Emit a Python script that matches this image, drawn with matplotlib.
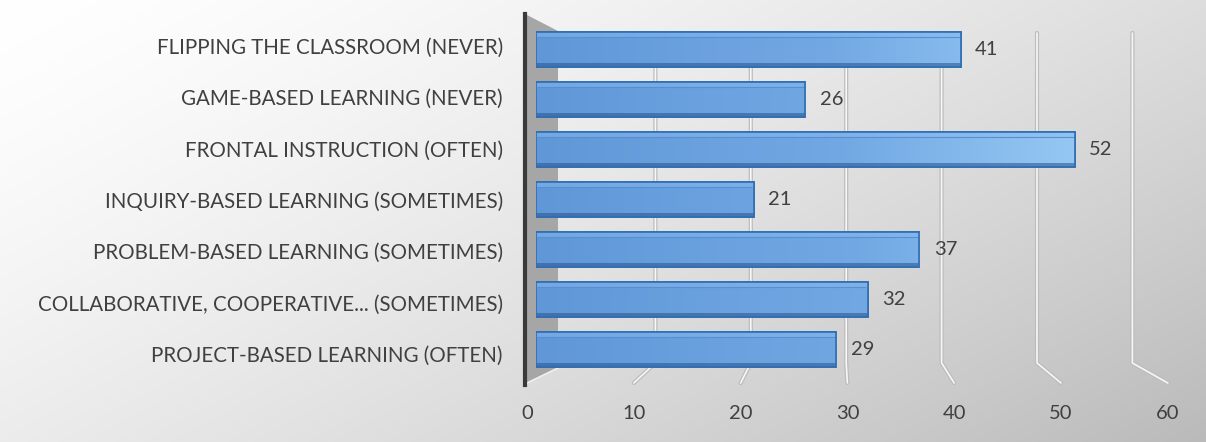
import numpy as np
import matplotlib
matplotlib.use('Agg')
import matplotlib.pyplot as plt
from matplotlib.patches import Polygon
from matplotlib.colors import LinearSegmentedColormap

# 데이터
categories = ['PROJECT-BASED LEARNING (OFTEN)',
              'COLLABORATIVE, COOPERATIVE... (SOMETIMES)',
              'PROBLEM-BASED LEARNING (SOMETIMES)',
              'INQUIRY-BASED LEARNING (SOMETIMES)',
              'FRONTAL INSTRUCTION (OFTEN)',
              'GAME-BASED LEARNING (NEVER)',
              'FLIPPING THE CLASSROOM (NEVER)']
values = [29, 32, 37, 21, 52, 26, 41]
xticks = [0, 10, 20, 30, 40, 50, 60]

W, H = 1206, 442
plt.rcParams['font.family'] = ['Lato', 'DejaVu Sans']
fig = plt.figure(figsize=(W / 100, H / 100), dpi=100)


def px_axes(left, top, right, bottom, **kw):
    # 픽셀 좌표로 axes 만들기
    return fig.add_axes([left / W, 1 - bottom / H, (right - left) / W, (bottom - top) / H], **kw)


def hide(a):
    a.patch.set_alpha(0)
    for s in a.spines.values():
        s.set_visible(False)


# 배경 그라데이션 (왼쪽 위 흰색 -> 오른쪽 아래 회색)
bg = px_axes(0, 0, W, H)
yy, xx = np.mgrid[0:1:200j, 0:1:400j]
t = np.clip(0.6 * xx + 0.4 * yy, 0, 1) ** 1.4
g = 1 - 0.27 * t
bg.imshow(np.dstack([g, g, g]), extent=(0, W, H, 0), aspect='auto', zorder=0)
bg.set_xlim(0, W)
bg.set_ylim(H, 0)
bg.axis('off')

# 벽/바닥 (장식)
wall_x0, wall_dx = 560, 95.4     # 뒷벽: 값 0, 10단위 폭
floor_x0, floor_dx = 527, 106.8  # 앞 바닥
wall_top, wall_bot, floor_y = 33, 363, 383
side = Polygon([(527, 15), (558, 31), (558, 368), (527, 383)], closed=True,
               facecolor='#a6a6a6', edgecolor='none', zorder=1)
bg.add_patch(side)
bg.plot([558, 527], [368, 383], color='#f0f0f0', lw=1.2, zorder=1.5)
for v in xticks[1:]:
    wx = wall_x0 + wall_dx * v / 10
    fx = floor_x0 + floor_dx * v / 10
    for lw, c in [(3.0, '#bdbdbd'), (1.2, '#f7f7f7')]:
        bg.plot([wx, wx, fx], [wall_top, wall_bot, floor_y], color=c, lw=lw,
                solid_capstyle='round', solid_joinstyle='round', zorder=2)
bg.plot([525, 525], [14, 385], color='#3a3a3a', lw=3, zorder=3)

# 막대
ax = px_axes(536, 24.5, 536 + 10.36 * 60, 374)
hide(ax)
ypos = np.arange(len(categories))
h = 0.7
bars = ax.barh(ypos, values, height=h, color='#6ea5e2', edgecolor='#2f6db3', lw=1.2, zorder=3)
grad = np.linspace(0, 1, 256)[None, :]
cm = LinearSegmentedColormap.from_list('b', ['#6097d7', '#72a9e4', '#a2d2f8'])
for i, b in enumerate(bars):
    x1 = b.get_width()
    im = ax.imshow(grad, cmap=cm, vmin=0, vmax=1, aspect='auto',
                   extent=(0, 60 * (1 + 0.15 * (6 - i) / 6) * 0.95, i - h / 2, i + h / 2), zorder=3.5)
    im.set_clip_path(b)
    # 윗면 밝은 줄, 아랫면 어두운 줄
    ax.barh(i + h / 2 - 0.05, x1, height=0.1, color='#8dbdf0', alpha=0.45, lw=0, zorder=4)
    ax.plot([0.2, x1 - 0.2], [i + h / 2 - 0.1] * 2, color='#5590d3', lw=0.8, zorder=4.2)
    ax.barh(i - h / 2 + 0.04, x1, height=0.08, color='#2d5a94', alpha=0.6, lw=0, zorder=4)
    ax.barh(i, x1, height=h, fill=False, edgecolor='#2f6db3', lw=1.2, zorder=5)
    ax.text(x1 + 1.4, i, str(values[i]), va='center', ha='left', fontsize=14.5, color='#404040')
ax.set_xlim(0, 60)
ax.set_ylim(-0.5, 6.5)
ax.set_xticks([])
ax.set_yticks([])

# 범주 라벨 (라벨 간격이 막대 간격보다 약간 넓음)
lab = px_axes(536, 20.3, 600, 379.7)
hide(lab)
lab.set_ylim(-0.5, 6.5)
lab.set_xticks([])
lab.set_yticks(ypos)
lab.set_yticklabels(categories, fontsize=14.8, color='#404040')
lab.tick_params(axis='y', length=0, pad=24)

# x축 눈금 (앞 바닥 기준)
fx = px_axes(floor_x0, 300, floor_x0 + floor_dx * 6, 384)
hide(fx)
fx.set_xlim(0, 60)
fx.set_xticks(xticks)
fx.set_xticklabels([str(v) for v in xticks], fontsize=14.5, color='#404040')
fx.tick_params(axis='x', length=0, pad=15)
fx.set_yticks([])

fig.savefig('out.png', dpi=100)
